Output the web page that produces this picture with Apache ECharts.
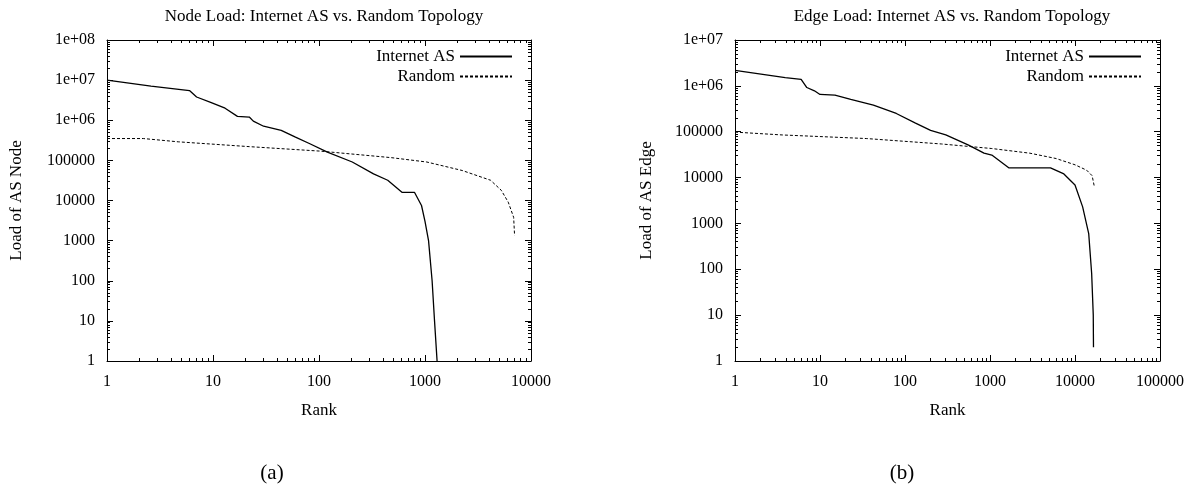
<!DOCTYPE html>
<html>
<head>
<meta charset="utf-8">
<script src="https://cdn.jsdelivr.net/npm/echarts@6/dist/echarts.min.js"></script>
<style>
html, body { margin: 0; padding: 0; background: #fff; }
#chart { width: 1196px; height: 491px; }
</style>
</head>
<body>
<div id="chart"></div>
<script>
// ---- Data ----
const titles = ['Node Load: Internet AS vs. Random Topology', 'Edge Load: Internet AS vs. Random Topology'];
const yNames = ['Load of AS Node', 'Load of AS Edge'];
const xName = 'Rank';
const captions = ['(a)', '(b)'];
const seriesNames = ['Internet AS', 'Random'];

const nodeInternetRank = [1, 2.6, 6, 7, 9.5, 13, 17, 22, 24, 30, 44, 60, 82, 120, 206, 327, 445, 606, 795, 927, 1000, 1080, 1167, 1230, 1300];
const nodeInternetLoad = [1e7, 7.1e6, 5.5e6, 3.8e6, 2.8e6, 2.0e6, 1.25e6, 1.2e6, 9.5e5, 7.1e5, 5.6e5, 3.8e5, 2.6e5, 1.6e5, 9.1e4, 4.6e4, 3.2e4, 1.6e4, 1.6e4, 7.5e3, 3e3, 1000, 100, 10, 1];

const nodeRandomRank = [1, 2.2, 4.7, 22, 103, 480, 1040, 2240, 4150, 5240, 6100, 6860, 7000];
const nodeRandomLoad = [3.5e5, 3.5e5, 2.9e5, 2.2e5, 1.7e5, 1.17e5, 9.1e4, 5.6e4, 3.2e4, 1.8e4, 9.1e3, 3.8e3, 1.33e3];

const edgeInternetRank = [1, 3.9, 6, 7, 8.6, 10, 15, 23, 42.5, 79, 133, 200, 302, 560, 850, 1050, 1660, 5150, 7400, 10000, 12300, 14500, 15700, 16400, 16500];
const edgeInternetLoad = [2.18e6, 1.51e6, 1.39e6, 9.2e5, 7.8e5, 6.5e5, 6.3e5, 5.1e5, 3.8e5, 2.5e5, 1.54e5, 1.07e5, 8.5e4, 5.1e4, 3.4e4, 3.1e4, 1.63e4, 1.63e4, 1.2e4, 6.9e3, 2.3e3, 600, 82, 10, 2];

const edgeRandomRank = [1, 3.6, 35, 270, 1050, 2950, 6000, 10000, 13700, 15900, 16900];
const edgeRandomLoad = [9.8e4, 8.5e4, 7.1e4, 5.4e4, 4.3e4, 3.4e4, 2.6e4, 1.9e4, 1.45e4, 1.1e4, 6.3e3];

const xRanges = [[1, 10000], [1, 100000]];
const yRanges = [[1, 1e8], [1, 1e7]];

// ---- Chart ----
const FONT = 'Liberation Serif';
const zip = (a, b) => a.map((v, i) => [v, b[i]]);
const grids = [
  { left: 107, top: 40, width: 424, height: 321 },
  { left: 735, top: 40, width: 425, height: 321 }
];
const yNameGap = [82, 80];
const yFmt = v => {
  const r = Math.round(v);
  if (r >= 1e6) { const e = Math.round(Math.log10(r)); return '1e+' + (e < 10 ? '0' + e : e); }
  return String(r);
};
const tickStyle = { color: '#000', width: 1 };
const xAxes = [], yAxes = [];
[0, 1].forEach(g => {
  ['bottom', 'top'].forEach(pos => {
    xAxes.push({
      type: 'log', logBase: 10, gridIndex: g, position: pos,
      min: xRanges[g][0], max: xRanges[g][1], splitNumber: 10,
      name: pos === 'bottom' ? xName : '', nameLocation: 'middle', nameGap: 41,
      nameTextStyle: { fontFamily: FONT, fontSize: 17, color: '#000' },
      axisLine: { show: true, lineStyle: { color: '#000', width: 1 } },
      axisTick: { show: true, inside: true, length: 6, lineStyle: tickStyle },
      minorTick: { show: true, splitNumber: 9, length: 3, lineStyle: tickStyle },
      splitLine: { show: false },
      axisLabel: { show: pos === 'bottom', margin: 13, fontFamily: FONT, fontSize: 16, color: '#000', formatter: v => String(Math.round(v)) }
    });
  });
  ['left', 'right'].forEach(pos => {
    yAxes.push({
      type: 'log', logBase: 10, gridIndex: g, position: pos,
      min: yRanges[g][0], max: yRanges[g][1], splitNumber: 10,
      name: pos === 'left' ? yNames[g] : '', nameLocation: 'middle', nameGap: yNameGap[g], nameRotate: 90,
      nameTextStyle: { fontFamily: FONT, fontSize: 17, color: '#000' },
      axisLine: { show: true, lineStyle: { color: '#000', width: 1 } },
      axisTick: { show: true, inside: true, length: 6, lineStyle: tickStyle },
      minorTick: { show: true, splitNumber: 9, length: 3, lineStyle: tickStyle },
      splitLine: { show: false },
      axisLabel: { show: pos === 'left', margin: 12, fontFamily: FONT, fontSize: 16, color: '#000', formatter: yFmt }
    });
  });
});

const seriesData = [
  [zip(nodeInternetRank, nodeInternetLoad), zip(nodeRandomRank, nodeRandomLoad)],
  [zip(edgeInternetRank, edgeInternetLoad), zip(edgeRandomRank, edgeRandomLoad)]
];
const series = [];
[0, 1].forEach(g => {
  series.push({
    name: seriesNames[0], type: 'line', xAxisIndex: g * 2, yAxisIndex: g * 2,
    data: seriesData[g][0], showSymbol: false, symbol: 'none',
    lineStyle: { color: '#000', width: 1.3, type: 'solid' }, itemStyle: { color: '#000' }
  });
  series.push({
    name: seriesNames[1], type: 'line', xAxisIndex: g * 2, yAxisIndex: g * 2,
    data: seriesData[g][1], showSymbol: false, symbol: 'none',
    lineStyle: { color: '#000', width: 1, type: [3, 2] }, itemStyle: { color: '#000' }
  });
});

const legendRight = [683, 54];
const legends = [];
[0, 1].forEach(g => {
  seriesNames.forEach((n, k) => {
    legends.push({
      data: [n], orient: 'horizontal', align: 'right', right: legendRight[g], top: 48 + k * 20,
      padding: 0, itemWidth: 52, itemHeight: 14, selectedMode: false,
      itemStyle: { opacity: 0 },
      textStyle: { fontFamily: FONT, fontSize: 17, color: '#000' }
    });
  });
});

const chart = echarts.init(document.getElementById('chart'), null, { renderer: 'canvas' });
chart.setOption({
  animation: false,
  backgroundColor: '#fff',
  title: [
    { text: titles[0], left: 319, top: 3, textAlign: 'center', textStyle: { fontFamily: FONT, fontSize: 17, fontWeight: 'normal', color: '#000' } },
    { text: titles[1], left: 947, top: 3, textAlign: 'center', textStyle: { fontFamily: FONT, fontSize: 17, fontWeight: 'normal', color: '#000' } }
  ],
  grid: grids,
  xAxis: xAxes,
  yAxis: yAxes,
  legend: legends,
  series: series,
  graphic: [
    { type: 'text', x: 272, y: 473, style: { text: captions[0], font: '21px "Liberation Serif"', fill: '#000', align: 'center', verticalAlign: 'middle' } },
    { type: 'text', x: 902, y: 473, style: { text: captions[1], font: '21px "Liberation Serif"', fill: '#000', align: 'center', verticalAlign: 'middle' } }
  ]
});
</script>
</body>
</html>
